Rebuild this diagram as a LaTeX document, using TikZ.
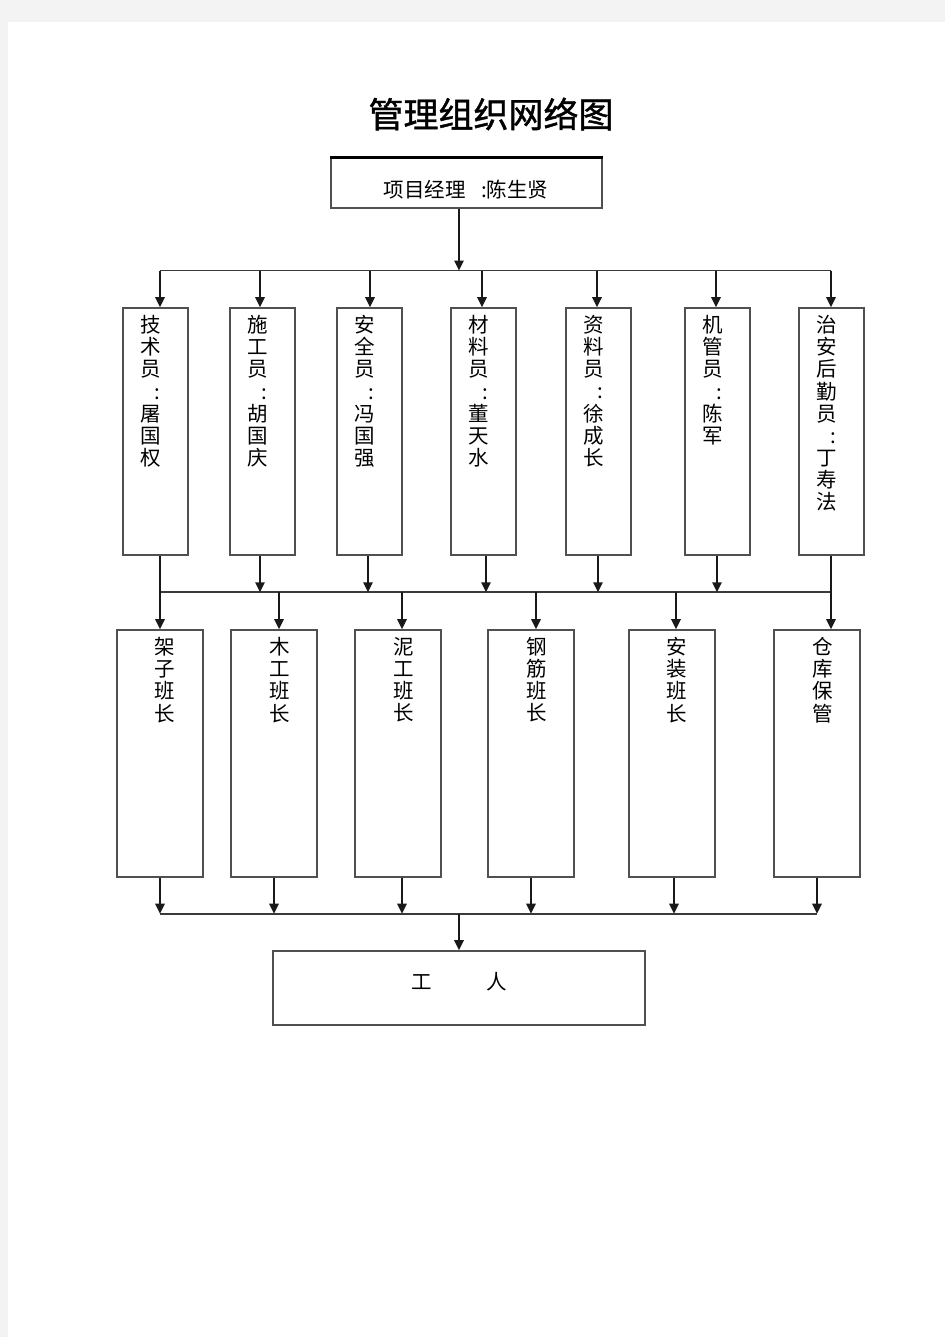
\documentclass[tikz,border=0pt]{standalone}
\usepackage{fontspec}
\setmainfont{Noto Sans CJK SC}
\newfontfamily\titlefont[FakeBold=1.2]{Noto Sans CJK SC}
\usetikzlibrary{arrows.meta}
\definecolor{pagegray}{HTML}{F3F3F3}
\definecolor{boxgray}{HTML}{505050}
\definecolor{linegray}{HTML}{3A3A3A}
\begin{document}
\begin{tikzpicture}[x=0.6pt,y=-0.6pt,
  box/.style={draw=boxgray,line width=1pt,inner sep=0pt,fill=white},
  boxA/.style={box,minimum width=39pt,minimum height=148.2pt},
  boxB/.style={box,minimum width=51.6pt,minimum height=148.2pt},
  vtext/.style={anchor=north,inner sep=0pt,align=center,font=\fontsize{12.3}{13.3}\selectfont},
  htext/.style={inner sep=0pt,font=\fontsize{12.3}{14}\selectfont},
  arr/.style={draw=black!90,line width=1.1pt,-{Triangle[length=6pt,width=5.6pt]}},
  bus/.style={draw=linegray,line width=1pt}]
\useasboundingbox (0,0) rectangle (945,1337);
\fill[pagegray] (0,0) rectangle (945,1337);
\fill[white] (8,22) rectangle (945,1337);

% title
\node[inner sep=0pt,font=\fontsize{21}{24}\titlefont] (title) at (491,114) {管理组织网络图};

% top box
\node[box,minimum width=162.6pt,minimum height=30pt] (top) at (466.5,183) {};
\draw[black,line width=1.6pt] (top.north west) -- (top.north east);
\node[htext] (toptext) at (466,190) {项目经理\hspace{0.75em}:陈生贤};

% second row
\node[boxA] (a1) at (155.5,431.5) {};
\node[boxA] (a2) at (262.5,431.5) {};
\node[boxA] (a3) at (369.5,431.5) {};
\node[boxA] (a4) at (483.5,431.5) {};
\node[boxA] (a5) at (598.5,431.5) {};
\node[boxA] (a6) at (717.5,431.5) {};
\node[boxA] (a7) at (831.5,431.5) {};
\newcommand\cln{\hspace*{0.6em}:}
\node[vtext] (ta1) at (151,315) {技\\术\\员\\\cln\\屠\\国\\权};
\node[vtext] (ta2) at (258,315) {施\\工\\员\\\cln\\胡\\国\\庆};
\node[vtext] (ta3) at (365,315) {安\\全\\员\\\cln\\冯\\国\\强};
\node[vtext] (ta4) at (479,315) {材\\料\\员\\\cln\\董\\天\\水};
\node[vtext] (ta5) at (594,315) {资\\料\\员\\\cln\\徐\\成\\长};
\node[vtext] (ta6) at (713,315) {机\\管\\员\\\cln\\陈\\军};
\node[vtext] (ta7) at (827,315) {治\\安\\后\\勤\\员\\\cln\\丁\\寿\\法};

% third row
\node[boxB] (b1) at (159.7,753.5) {};
\node[boxB] (b2) at (274,753.5) {};
\node[boxB] (b3) at (398,753.5) {};
\node[boxB] (b4) at (531,753.5) {};
\node[boxB] (b5) at (672,753.5) {};
\node[boxB] (b6) at (817,753.5) {};
\node[vtext] (tb1) at (165,637) {架\\子\\班\\长};
\node[vtext] (tb2) at (279.3,637) {木\\工\\班\\长};
\node[vtext] (tb3) at (403.3,637) {泥\\工\\班\\长};
\node[vtext] (tb4) at (536.7,637) {钢\\筋\\班\\长};
\node[vtext] (tb5) at (676.7,637) {安\\装\\班\\长};
\node[vtext] (tb6) at (822.3,637) {仓\\库\\保\\管};

% bottom box
\node[box,minimum width=223.2pt,minimum height=44.4pt] (work) at (459,988) {};
\node[htext] (worktext) at (459,982) {工\hspace{2.67em}人};

% bus 1
\coordinate (m1) at (459,270.5);
\coordinate (p1) at (160,270.5);
\coordinate (p2) at (260,270.5);
\coordinate (p3) at (370,270.5);
\coordinate (p4) at (482,270.5);
\coordinate (p5) at (597,270.5);
\coordinate (p6) at (716,270.5);
\coordinate (p7) at (831,270.5);
\draw[bus] (p1) -- (p7);
\draw[arr] (top.south -| m1) -- (m1);
\foreach \i/\b in {1/a1,2/a2,3/a3,4/a4,5/a5,6/a6,7/a7}
  \draw[arr] (p\i) -- (p\i |- \b.north);

% bus 2
\coordinate (q1) at (160,592.3);
\coordinate (q2) at (260,592.3);
\coordinate (q3) at (368,592.3);
\coordinate (q4) at (486,592.3);
\coordinate (q5) at (598,592.3);
\coordinate (q6) at (717,592.3);
\coordinate (q7) at (831,592.3);
\draw[bus] (q1) -- (q7);
\foreach \i/\b in {2/a2,3/a3,4/a4,5/a5,6/a6}
  \draw[arr] (q\i |- \b.south) -- (q\i);
\coordinate (r1) at (160,592.3);
\coordinate (r2) at (279,592.3);
\coordinate (r3) at (402,592.3);
\coordinate (r4) at (536,592.3);
\coordinate (r5) at (676,592.3);
\coordinate (r6) at (831,592.3);
\draw[arr] (q1 |- a1.south) -- (r1 |- b1.north);
\draw[arr] (q7 |- a7.south) -- (r6 |- b6.north);
\foreach \i/\b in {2/b2,3/b3,4/b4,5/b5}
  \draw[arr] (r\i) -- (r\i |- \b.north);

% bus 3
\coordinate (s1) at (160,913.7);
\coordinate (s2) at (274,913.7);
\coordinate (s3) at (402,913.7);
\coordinate (s4) at (531,913.7);
\coordinate (s5) at (674,913.7);
\coordinate (s6) at (817,913.7);
\coordinate (m3) at (459,913.7);
\draw[bus] (s1) -- (s6);
\foreach \i/\b in {1/b1,2/b2,3/b3,4/b4,5/b5,6/b6}
  \draw[arr] (s\i |- \b.south) -- (s\i);
\draw[arr] (m3) -- (m3 |- work.north);
\end{tikzpicture}
\end{document}
